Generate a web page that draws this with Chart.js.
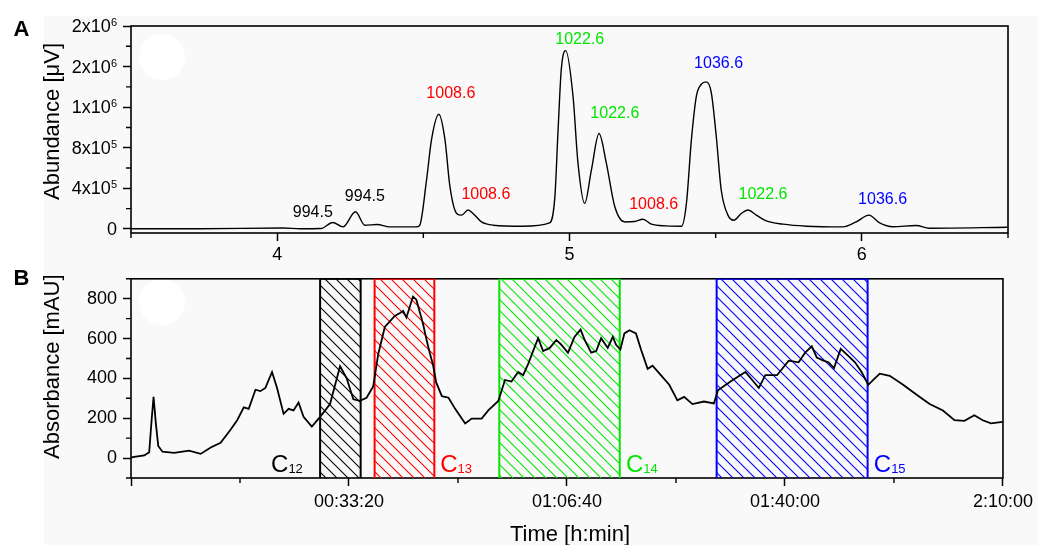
<!DOCTYPE html>
<html>
<head>
<meta charset="utf-8">
<script src="https://cdn.jsdelivr.net/npm/chart.js@4.4.1/dist/chart.umd.min.js"></script>
<style>
  body { margin: 0; background: #fff; }
  #wrap { position: relative; width: 1038px; height: 545px; overflow: hidden; }
  #bg { position: absolute; left: 44px; top: 16px; right: 0; bottom: 0; background: #f9f9f9; }
  .dot { position: absolute; width: 46px; height: 46px; border-radius: 50%; background: #fff; }
  canvas { position: absolute; left: 0; }
</style>
</head>
<body>
<div id="wrap">
  <div id="bg"></div>
  <div class="dot" style="left:139px; top:34px"></div>
  <div class="dot" style="left:139px; top:279px"></div>
  <canvas id="chartA" width="1038" height="268" style="top:0"></canvas>
  <canvas id="chartB" width="1038" height="283" style="top:262px"></canvas>
</div>
<script>
const FONT = "'Liberation Sans', Arial, sans-serif";

// ---- panel A: chromatogram (retention time [min] vs abundance [uV])
const timeA = [3.50, 3.74, 4.02, 4.08, 4.15, 4.19, 4.225, 4.268, 4.30, 4.341, 4.385, 4.478, 4.488, 4.511,
  4.528, 4.553, 4.574, 4.591, 4.614, 4.631, 4.653, 4.670, 4.699, 4.739, 4.840, 4.932, 4.950, 4.961, 4.972,
  4.987, 5.012, 5.029, 5.052, 5.075, 5.101, 5.126, 5.155, 5.189, 5.223, 5.251, 5.280, 5.331, 5.383, 5.400,
  5.417, 5.434, 5.451, 5.468, 5.485, 5.502, 5.519, 5.542, 5.562, 5.588, 5.610, 5.639, 5.673, 5.730, 5.810,
  5.935, 5.981, 6.024, 6.061, 6.106, 6.186, 6.231, 6.497];
const abundanceA = [2e3, 2e3, 9e3, 2e3, 4e3, 6.4e4, 2e4, 1.69e5, 3.7e4, 4.4e4, 2e4, 2e4, 3.7e4, 4.83e5,
  8.8e5, 1.13e6, 8.8e5, 4.17e5, 1.53e5, 1.36e5, 1.86e5, 1.53e5, 6.9e4, 3.7e4, 2.7e4, 6e4, 3.18e5, 9.8e5, 1.575e6,
  1.757e6, 1.31e6, 6.49e5, 2.52e5, 5.83e5, 9.4e5, 6.49e5, 2.18e5, 6.9e4, 7.3e4, 9.6e4, 4.7e4, 3e4, 2.7e4, 2.52e5,
  8.8e5, 1.31e6, 1.426e6, 1.449e6, 1.344e6, 9.13e5, 3.84e5, 1.36e5, 8.6e4, 1.53e5, 1.86e5, 1.36e5, 7.9e4, 4.7e4, 2.7e4,
  2e4, 6.9e4, 1.36e5, 6e4, 2.2e4, 3.4e4, 7e3, 1.7e4];

const xTicksA = [4, 5, 6];
const xMinorA = [3.5, 4.5, 5.5, 6.5];
const yTicksA = [0, 4e5, 8e5, 1.2e6, 1.6e6, 2e6];
const yTickBaseA = ['0', '4x10', '8x10', '1x10', '2x10', '2x10'];
const yTickExpA = ['', '5', '5', '6', '6', '6'];
const yMinorA = [2e5, 6e5, 1e6, 1.4e6, 1.8e6];

// peak annotations (m/z)
const peakText = ['994.5', '994.5', '1008.6', '1008.6', '1022.6', '1022.6', '1008.6', '1036.6', '1022.6', '1036.6'];
const peakX = [4.122, 4.300, 4.594, 4.714, 5.035, 5.155, 5.288, 5.510, 5.662, 6.071];
const peakY = [1.66e5, 3.18e5, 1.337e6, 3.35e5, 1.866e6, 1.136e6, 2.42e5, 1.632e6, 3.41e5, 2.85e5];
const peakColor = ['#000000', '#000000', '#ff0000', '#ff0000', '#00e600', '#00e600', '#ff0000', '#0000ff', '#00e600', '#0000ff'];

// ---- panel B: UV trace (time [s] vs absorbance [mAU])
const timeB = [0, 15, 122, 167, 189, 207, 228, 250, 289, 396, 532, 639, 731, 822, 913, 974, 1035, 1080, 1142,
  1187, 1233, 1294, 1340, 1400, 1446, 1491, 1537, 1583, 1659, 1735, 1826, 1918, 1979, 2040, 2100, 2161, 2222,
  2268, 2329, 2420, 2472, 2496, 2527, 2587, 2618, 2679, 2712, 2740, 2770, 2800, 2852, 2913, 2974, 3066, 3126,
  3217, 3278, 3370, 3431, 3491, 3552, 3598, 3644, 3689, 3735, 3781, 3842, 3902, 3948, 4009, 4070, 4125, 4162,
  4222, 4268, 4313, 4374, 4420, 4450, 4490, 4527, 4573, 4633, 4679, 4740, 4785, 4861, 4938, 5013, 5075, 5151,
  5257, 5348, 5385, 5500, 5637, 5760, 5820, 5927, 6034, 6125, 6185, 6246, 6292, 6353, 6399, 6450, 6511, 6581,
  6642, 6703, 6764, 6824, 6870, 6961, 7084, 7205, 7327, 7449, 7555, 7646, 7737, 7814, 7890, 7997];
const absorbanceB = [0, 5, 13, 29, 190, 307, 174, 61, 32, 26, 37, 21, 53, 77, 142, 190, 255, 247, 343,
  336, 352, 432, 352, 222, 247, 239, 279, 207, 158, 207, 271, 461, 400, 295, 287, 303, 360,
  521, 658, 714, 730, 739, 706, 811, 795, 674, 593, 530, 470, 380, 311, 303, 247, 174, 198,
  198, 239, 287, 392, 384, 432, 416, 473, 537, 602, 537, 553, 593, 569, 529, 609, 645, 593,
  529, 537, 602, 553, 609, 569, 545, 626, 642, 626, 545, 448, 464, 416, 368, 290, 307, 271,
  284, 274, 340, 384, 432, 352, 416, 416, 489, 481, 529, 561, 505, 489, 481, 452, 548, 513,
  481, 432, 368, 400, 424, 413, 368, 319, 271, 239, 190, 187, 215, 190, 174, 182];

const xTicksB = [0, 2000, 4000, 6000, 8000];
const xTickLabelsB = ['', '00:33:20', '01:06:40', '01:40:00', '2:10:00'];
const xMinorB = [1000, 3000, 5000, 7000];
const yTicksB = [0, 200, 400, 600, 800];
const yMinorB = [-100, 100, 300, 500, 700, 900];

// collected fractions
const fracSub = ['12', '13', '14', '15'];
const fracStart = [1735, 2235, 3379, 5373];
const fracEnd = [2107, 2783, 4484, 6758];
const fracColor = ['#000000', '#ff0000', '#00e600', '#0000ff'];
const fracLabelX = [1285, 2837, 4541, 6815];
const fracLabelY = -72;

function hatch(color) {
    const s = 11;
    const c = document.createElement('canvas');
    c.width = s; c.height = s;
    const g = c.getContext('2d');
    g.strokeStyle = color;
    g.lineWidth = 1.1;
    for (const k of [-1, 0, 1]) {
        g.beginPath();
        g.moveTo(-1, -1 + k * s);
        g.lineTo(s + 1, s + 1 + k * s);
        g.stroke();
    }
    return g.createPattern(c, 'repeat');
}

function drawFrame(chart) {
    const { ctx, chartArea: a } = chart;
    ctx.save();
    ctx.strokeStyle = '#000';
    ctx.lineWidth = 1.6;
    ctx.strokeRect(a.left, a.top, a.right - a.left, a.bottom - a.top);
    ctx.restore();
}

function drawMinor(chart, xs, ys) {
    const { ctx, chartArea: a, scales } = chart;
    ctx.save();
    ctx.strokeStyle = '#000';
    ctx.lineWidth = 1.4;
    ctx.beginPath();
    xs.forEach(v => {
        const p = scales.x.getPixelForValue(v);
        ctx.moveTo(p, a.bottom); ctx.lineTo(p, a.bottom + 5);
    });
    ys.forEach(v => {
        const p = scales.y.getPixelForValue(v);
        ctx.moveTo(a.left, p); ctx.lineTo(a.left - 5, p);
    });
    ctx.stroke();
    ctx.restore();
}

function vText(ctx, text, x, y) {
    ctx.save();
    ctx.translate(x, y);
    ctx.rotate(-Math.PI / 2);
    ctx.textAlign = 'center';
    ctx.textBaseline = 'middle';
    ctx.fillText(text, 0, 0);
    ctx.restore();
}

function axisGrid() {
    return { drawOnChartArea: false, drawTicks: true, tickLength: 8, tickWidth: 1.5, tickColor: '#000' };
}

const decorA = {
    id: 'decorA',
    beforeDatasetsDraw(chart) {
        drawFrame(chart);
        drawMinor(chart, xMinorA, yMinorA);
    },
    afterDraw(chart) {
        const { ctx, chartArea: a, scales } = chart;
        ctx.save();
        ctx.fillStyle = '#000';

        // y tick labels with exponent
        const right = a.left - 14;
        yTicksA.forEach((v, i) => {
            const py = scales.y.getPixelForValue(v);
            ctx.font = '11px ' + FONT;
            const ew = ctx.measureText(yTickExpA[i]).width;
            ctx.textAlign = 'right';
            ctx.textBaseline = 'alphabetic';
            ctx.fillText(yTickExpA[i], right, py);
            ctx.font = '18px ' + FONT;
            ctx.textBaseline = 'middle';
            ctx.fillText(yTickBaseA[i], right - ew, py + 1);
        });

        // peak labels
        ctx.font = '16px ' + FONT;
        ctx.textAlign = 'center';
        ctx.textBaseline = 'middle';
        peakText.forEach((t, i) => {
            ctx.fillStyle = peakColor[i];
            ctx.fillText(t, scales.x.getPixelForValue(peakX[i]), scales.y.getPixelForValue(peakY[i]));
        });

        ctx.fillStyle = '#000';
        ctx.font = '22px ' + FONT;
        vText(ctx, 'Abundance [\u03bcV]', 53, 121.5);

        ctx.font = 'bold 22px ' + FONT;
        ctx.textAlign = 'center';
        ctx.fillText('A', 21.5, 29.5);
        ctx.restore();
    }
};

const decorB = {
    id: 'decorB',
    beforeDatasetsDraw(chart) {
        drawFrame(chart);
        drawMinor(chart, xMinorB, yMinorB);
    },
    afterDraw(chart) {
        const { ctx, scales } = chart;
        ctx.save();

        // fraction labels C12..C15
        ctx.textAlign = 'left';
        ctx.textBaseline = 'alphabetic';
        fracSub.forEach((sub, i) => {
            const x = scales.x.getPixelForValue(fracLabelX[i]);
            const y = scales.y.getPixelForValue(fracLabelY);
            ctx.fillStyle = fracColor[i];
            ctx.font = '24px ' + FONT;
            ctx.fillText('C', x, y);
            const w = ctx.measureText('C').width;
            ctx.font = '13px ' + FONT;
            ctx.fillText(sub, x + w, y + 1);
        });

        ctx.fillStyle = '#000';
        ctx.font = '22px ' + FONT;
        vText(ctx, 'Absorbance [mAU]', 53, 104.7);
        ctx.textAlign = 'center';
        ctx.textBaseline = 'middle';
        ctx.fillText('Time [h:min]', 570, 273);

        ctx.font = 'bold 22px ' + FONT;
        ctx.fillText('B', 21.5, 16.5);
        ctx.restore();
    }
};

new Chart(document.getElementById('chartA'), {
    type: 'line',
    data: {
        datasets: [{
            data: timeA.map((t, i) => ({ x: t, y: abundanceA[i] })),
            borderColor: '#000',
            borderWidth: 1.4,
            pointRadius: 0,
            cubicInterpolationMode: 'monotone',
            fill: false
        }]
    },
    options: {
        responsive: false,
        animation: false,
        events: [],
        layout: { padding: { left: 0, top: 26, right: 30, bottom: 0 } },
        plugins: { legend: { display: false }, tooltip: { enabled: false } },
        scales: {
            x: {
                type: 'linear', min: 3.5, max: 6.5,
                afterBuildTicks: s => { s.ticks = xTicksA.map(v => ({ value: v })); },
                afterFit: s => { s.height = 35; },
                grid: axisGrid(),
                border: { display: false },
                ticks: {
                    font: { family: FONT, size: 18 }, color: '#000', padding: 3,
                    maxRotation: 0, autoSkip: false, callback: v => String(v)
                }
            },
            y: {
                type: 'linear', min: -40000, max: 2e6,
                afterBuildTicks: s => { s.ticks = yTicksA.map(v => ({ value: v })); },
                afterFit: s => { s.width = 131; },
                grid: axisGrid(),
                border: { display: false },
                ticks: { callback: () => '' }
            }
        }
    },
    plugins: [decorA]
});

const rectSets = fracStart.map((s, i) => ({
    data: [
        { x: s, y: -100 }, { x: s, y: 900 },
        { x: fracEnd[i], y: 900 }, { x: fracEnd[i], y: -100 }
    ],
    borderColor: fracColor[i],
    borderWidth: 2,
    backgroundColor: hatch(fracColor[i]),
    fill: { value: -100 },
    pointRadius: 0,
    tension: 0,
    order: 1
}));

new Chart(document.getElementById('chartB'), {
    type: 'line',
    data: {
        datasets: [{
            data: timeB.map((t, i) => ({ x: t, y: absorbanceB[i] })),
            borderColor: '#000',
            borderWidth: 1.8,
            pointRadius: 0,
            tension: 0,
            fill: false,
            order: 0
        }].concat(rectSets)
    },
    options: {
        responsive: false,
        animation: false,
        events: [],
        layout: { padding: { left: 0, top: 10, right: 30, bottom: 0 } },
        plugins: { legend: { display: false }, tooltip: { enabled: false } },
        scales: {
            x: {
                type: 'linear', min: 0, max: 8000,
                afterBuildTicks: s => { s.ticks = xTicksB.map(v => ({ value: v })); },
                afterFit: s => { s.height = 67; },
                grid: axisGrid(),
                border: { display: false },
                ticks: {
                    font: { family: FONT, size: 18 }, color: '#000', padding: 5,
                    maxRotation: 0, autoSkip: false,
                    callback: v => {
                        const i = xTicksB.indexOf(v);
                        return i >= 0 ? xTickLabelsB[i] : '';
                    }
                }
            },
            y: {
                type: 'linear', min: -100, max: 900,
                afterBuildTicks: s => { s.ticks = yTicksB.map(v => ({ value: v })); },
                afterFit: s => { s.width = 131; },
                grid: axisGrid(),
                border: { display: false },
                ticks: {
                    font: { family: FONT, size: 18 }, color: '#000', padding: 6,
                    callback: v => String(v)
                }
            }
        }
    },
    plugins: [decorB]
});
</script>
</body>
</html>
